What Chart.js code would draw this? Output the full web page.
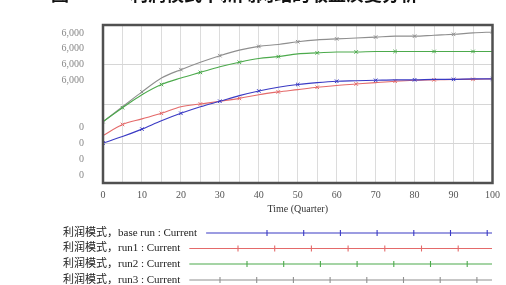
<!DOCTYPE html>
<html>
<head>
<meta charset="utf-8">
<script src="https://cdn.jsdelivr.net/npm/chart.js@4.4.1/dist/chart.umd.min.js"></script>
<style>
  html, body { margin: 0; padding: 0; background: #fff; }
  #wrap { position: relative; width: 506px; height: 285px; overflow: hidden; }
</style>
</head>
<body>
<div id="wrap"><canvas id="chart" width="506" height="285"></canvas></div>
<script>
/* ── data ── */
const quarters = [0, 5, 10, 15, 20, 25, 30, 35, 40, 45, 50, 55, 60, 65, 70, 75, 80, 85, 90, 95, 100];

const baseRun = [50.6, 58.8, 68.2, 78.8, 88.2, 96.5, 103.5, 110.6, 116.5, 121.2, 124.7,
                 127.1, 128.8, 129.4, 130, 130.6, 130.6, 131.2, 131.2, 131.8, 131.8];
const run1    = [60, 74.1, 81.2, 88.2, 96.5, 100, 103.5, 107.1, 111.8, 115.3, 118.2,
                 121.2, 123.5, 125.3, 127.1, 128.8, 130, 130.6, 131.2, 131.2, 131.8];
const run2    = [77.6, 95.3, 111.8, 124.7, 132.9, 140, 147.1, 152.9, 157.6, 160, 163.5,
                 164.7, 165.9, 165.9, 166.5, 166.5, 166.5, 166.5, 166.5, 166.5, 166.5];
const run3    = [77.6, 96.5, 115.3, 132.9, 143.5, 152.9, 161.2, 168.2, 172.9, 175.3, 178.8,
                 181.2, 182.4, 183.5, 184.7, 185.9, 185.9, 187.1, 188.2, 190, 191.2];

const seriesNames = ['利润模式，base run : Current', '利润模式，run1 : Current',
                     '利润模式，run2 : Current', '利润模式，run3 : Current'];
const seriesColors = ['#3a3ac4', '#e46a6a', '#4caa4c', '#8f8f8f'];

// odd tick labels as printed on the original y axis
const yTickValues = [10, 30, 50, 70, 130, 150, 170, 190];
const yTickText   = ['0', '0', '0', '0', '6,000', '6,000', '6,000', '6,000'];

const xTitle = 'Time (Quarter)';
const titleText = ['图', '利润模式下新闻网站的收益演变分析'];

/* ── helpers ── */
function toPoints(vals) {
    return quarters.map((t, i) => ({ x: t, y: vals[i] }));
}

function makeSet(vals, idx, offset) {
    return {
        label: seriesNames[idx],
        data: toPoints(vals),
        borderColor: seriesColors[idx],
        backgroundColor: seriesColors[idx],
        borderWidth: 1.1,
        tension: 0.35,
        cubicInterpolationMode: 'monotone',
        pointStyle: 'crossRot',
        pointRadius: ctx => (ctx.dataIndex % 2 === offset ? 2.5 : 0),
        pointBorderWidth: 1
    };
}

/* frame, title and bottom legend */
const decorPlugin = {
    id: 'decor',
    afterDraw(chart) {
        const { ctx, chartArea: a } = chart;
        ctx.save();

        // thick plot frame
        ctx.strokeStyle = '#505050';
        ctx.lineWidth = 2.5;
        ctx.strokeRect(a.left, a.top, a.right - a.left, a.bottom - a.top);

        // title, cut off by the top edge
        ctx.fillStyle = '#111';
        ctx.font = 'bold 18px "Noto Sans CJK SC"';
        ctx.textBaseline = 'alphabetic';
        ctx.fillText(titleText[0], 51, 1);
        ctx.fillText(titleText[1], 130, 1);

        // legend rows
        const rows = [233, 248.5, 264, 280];
        const markStart = [267, 238, 247, 220];
        ctx.font = '11px "Liberation Serif", "Noto Sans CJK SC"';
        ctx.textBaseline = 'middle';
        rows.forEach((y, i) => {
            ctx.fillStyle = '#222';
            ctx.fillText(seriesNames[i], 63, y);
            const x0 = 63 + ctx.measureText(seriesNames[i]).width + 9;
            ctx.strokeStyle = seriesColors[i];
            ctx.lineWidth = 1.1;
            ctx.beginPath();
            ctx.moveTo(x0, y);
            ctx.lineTo(492, y);
            ctx.stroke();
            for (let mx = markStart[i]; mx < 493; mx += 36.7) {
                if (mx < x0) continue;
                ctx.beginPath();
                ctx.moveTo(mx, y - 3);
                ctx.lineTo(mx, y + 3);
                ctx.stroke();
            }
        });
        ctx.restore();
    }
};

new Chart(document.getElementById('chart'), {
    type: 'line',
    data: {
        datasets: [
            makeSet(baseRun, 0, 0),
            makeSet(run1, 1, 1),
            makeSet(run2, 2, 1),
            makeSet(run3, 3, 0)
        ]
    },
    options: {
        responsive: false,
        animation: false,
        layout: { padding: { top: 13, right: 9, bottom: 67, left: 0 } },
        plugins: {
            legend: { display: false },
            tooltip: { enabled: false }
        },
        scales: {
            x: {
                type: 'linear',
                min: 0,
                max: 100,
                afterFit: s => { s.height = 35; },
                grid: { color: '#dcdcdc', drawTicks: false },
                border: { display: false },
                ticks: {
                    stepSize: 5,
                    padding: 6,
                    maxRotation: 0,
                    autoSkip: false,
                    color: '#555',
                    font: { family: '"Liberation Serif"', size: 10 },
                    callback: v => (v % 10 === 0 ? v : '')
                },
                title: {
                    display: true,
                    text: xTitle,
                    color: '#333',
                    padding: { top: 0, bottom: 3 },
                    font: { family: '"Liberation Serif"', size: 10 }
                }
            },
            y: {
                min: 0,
                max: 200,
                afterFit: s => { s.width = 103; },
                grid: {
                    drawTicks: false,
                    color: c => (c.tick && c.tick.value % 50 === 0 ? '#d6d6d6' : 'rgba(0,0,0,0)')
                },
                border: { display: false },
                ticks: {
                    stepSize: 10,
                    padding: 19,
                    autoSkip: false,
                    color: '#888',
                    font: { family: '"Liberation Serif"', size: 10 },
                    callback: v => {
                        const k = yTickValues.indexOf(v);
                        return k >= 0 ? yTickText[k] : '';
                    }
                }
            }
        }
    },
    plugins: [decorPlugin]
});
</script>
</body>
</html>
